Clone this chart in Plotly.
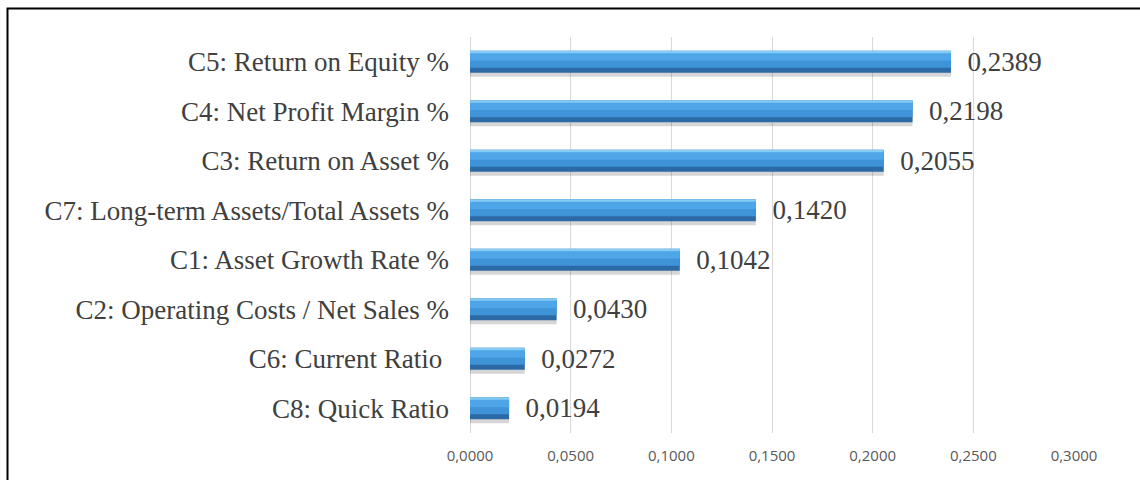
import plotly.graph_objects as go

categories = [
    "C8: Quick Ratio",
    "C6: Current Ratio\u00a0",
    "C2: Operating Costs / Net Sales %",
    "C1: Asset Growth Rate %",
    "C7: Long-term Assets/Total Assets %",
    "C3: Return on Asset %",
    "C4: Net Profit Margin %",
    "C5: Return on Equity %",
]
values = [0.0194, 0.0272, 0.0430, 0.1042, 0.1420, 0.2055, 0.2198, 0.2389]
tick_vals = [0.0, 0.05, 0.10, 0.15, 0.20, 0.25, 0.30]

PX = 1 / 49.1  # one pixel in category units
H = 22 * PX
fig = go.Figure()
# shadow
fig.add_trace(go.Bar(y=categories, x=values, orientation="h", width=H, offset=-H / 2 - 4 * PX,
                     marker=dict(color="rgba(0,0,0,0.16)", line=dict(width=0)), hoverinfo="skip"))
# base (dark)
fig.add_trace(go.Bar(y=categories, x=values, orientation="h", width=H, offset=-H / 2,
                     marker=dict(color="#2c6aa6", line=dict(width=0)),
                     texttemplate="\u00a0\u00a0%{x:.4f}", textposition="outside",
                     constraintext="none",
                     textfont=dict(family="Liberation Serif", size=27, color="#404040"),
                     cliponaxis=False))
# main body
fig.add_trace(go.Bar(y=categories, x=values, orientation="h", width=15 * PX, offset=-6 * PX,
                     marker=dict(color="#3f93d8", line=dict(width=0)), hoverinfo="skip"))
# upper body
fig.add_trace(go.Bar(y=categories, x=values, orientation="h", width=8 * PX, offset=1 * PX,
                     marker=dict(color="#4ea5e8", line=dict(width=0)), hoverinfo="skip"))
# highlight
fig.add_trace(go.Bar(y=categories, x=values, orientation="h", width=2.5 * PX, offset=8.5 * PX,
                     marker=dict(color="#84cbf5", line=dict(width=0)), hoverinfo="skip"))

fig.update_layout(
    width=1140, height=480,
    margin=dict(l=470, r=66, t=37, b=47),
    barmode="overlay",
    showlegend=False,
    paper_bgcolor="white", plot_bgcolor="white",
    separators=",.",
    xaxis=dict(range=[0, 0.3], tickvals=tick_vals, tickformat=".4f",
               showgrid=True, gridcolor="#d9d9d9", gridwidth=1,
               zeroline=True, zerolinecolor="#d9d9d9", zerolinewidth=1,
               showline=False, ticks="", ticklabelstandoff=12,
               tickfont=dict(family="Open Sans", size=15, color="#595959")),
    yaxis=dict(showgrid=False, zeroline=False, showline=False, ticks="",
               ticklabelstandoff=20,
               tickfont=dict(family="Liberation Serif", size=27, color="#404040")),
    shapes=[dict(type="rect", xref="paper", yref="paper",
                 x0=(7.5 - 470) / 604, x1=1.2, y0=-0.3, y1=(433 - 8.5) / 396,
                 line=dict(color="black", width=2), fillcolor="rgba(0,0,0,0)")],
)

fig.write_html("out.html")
